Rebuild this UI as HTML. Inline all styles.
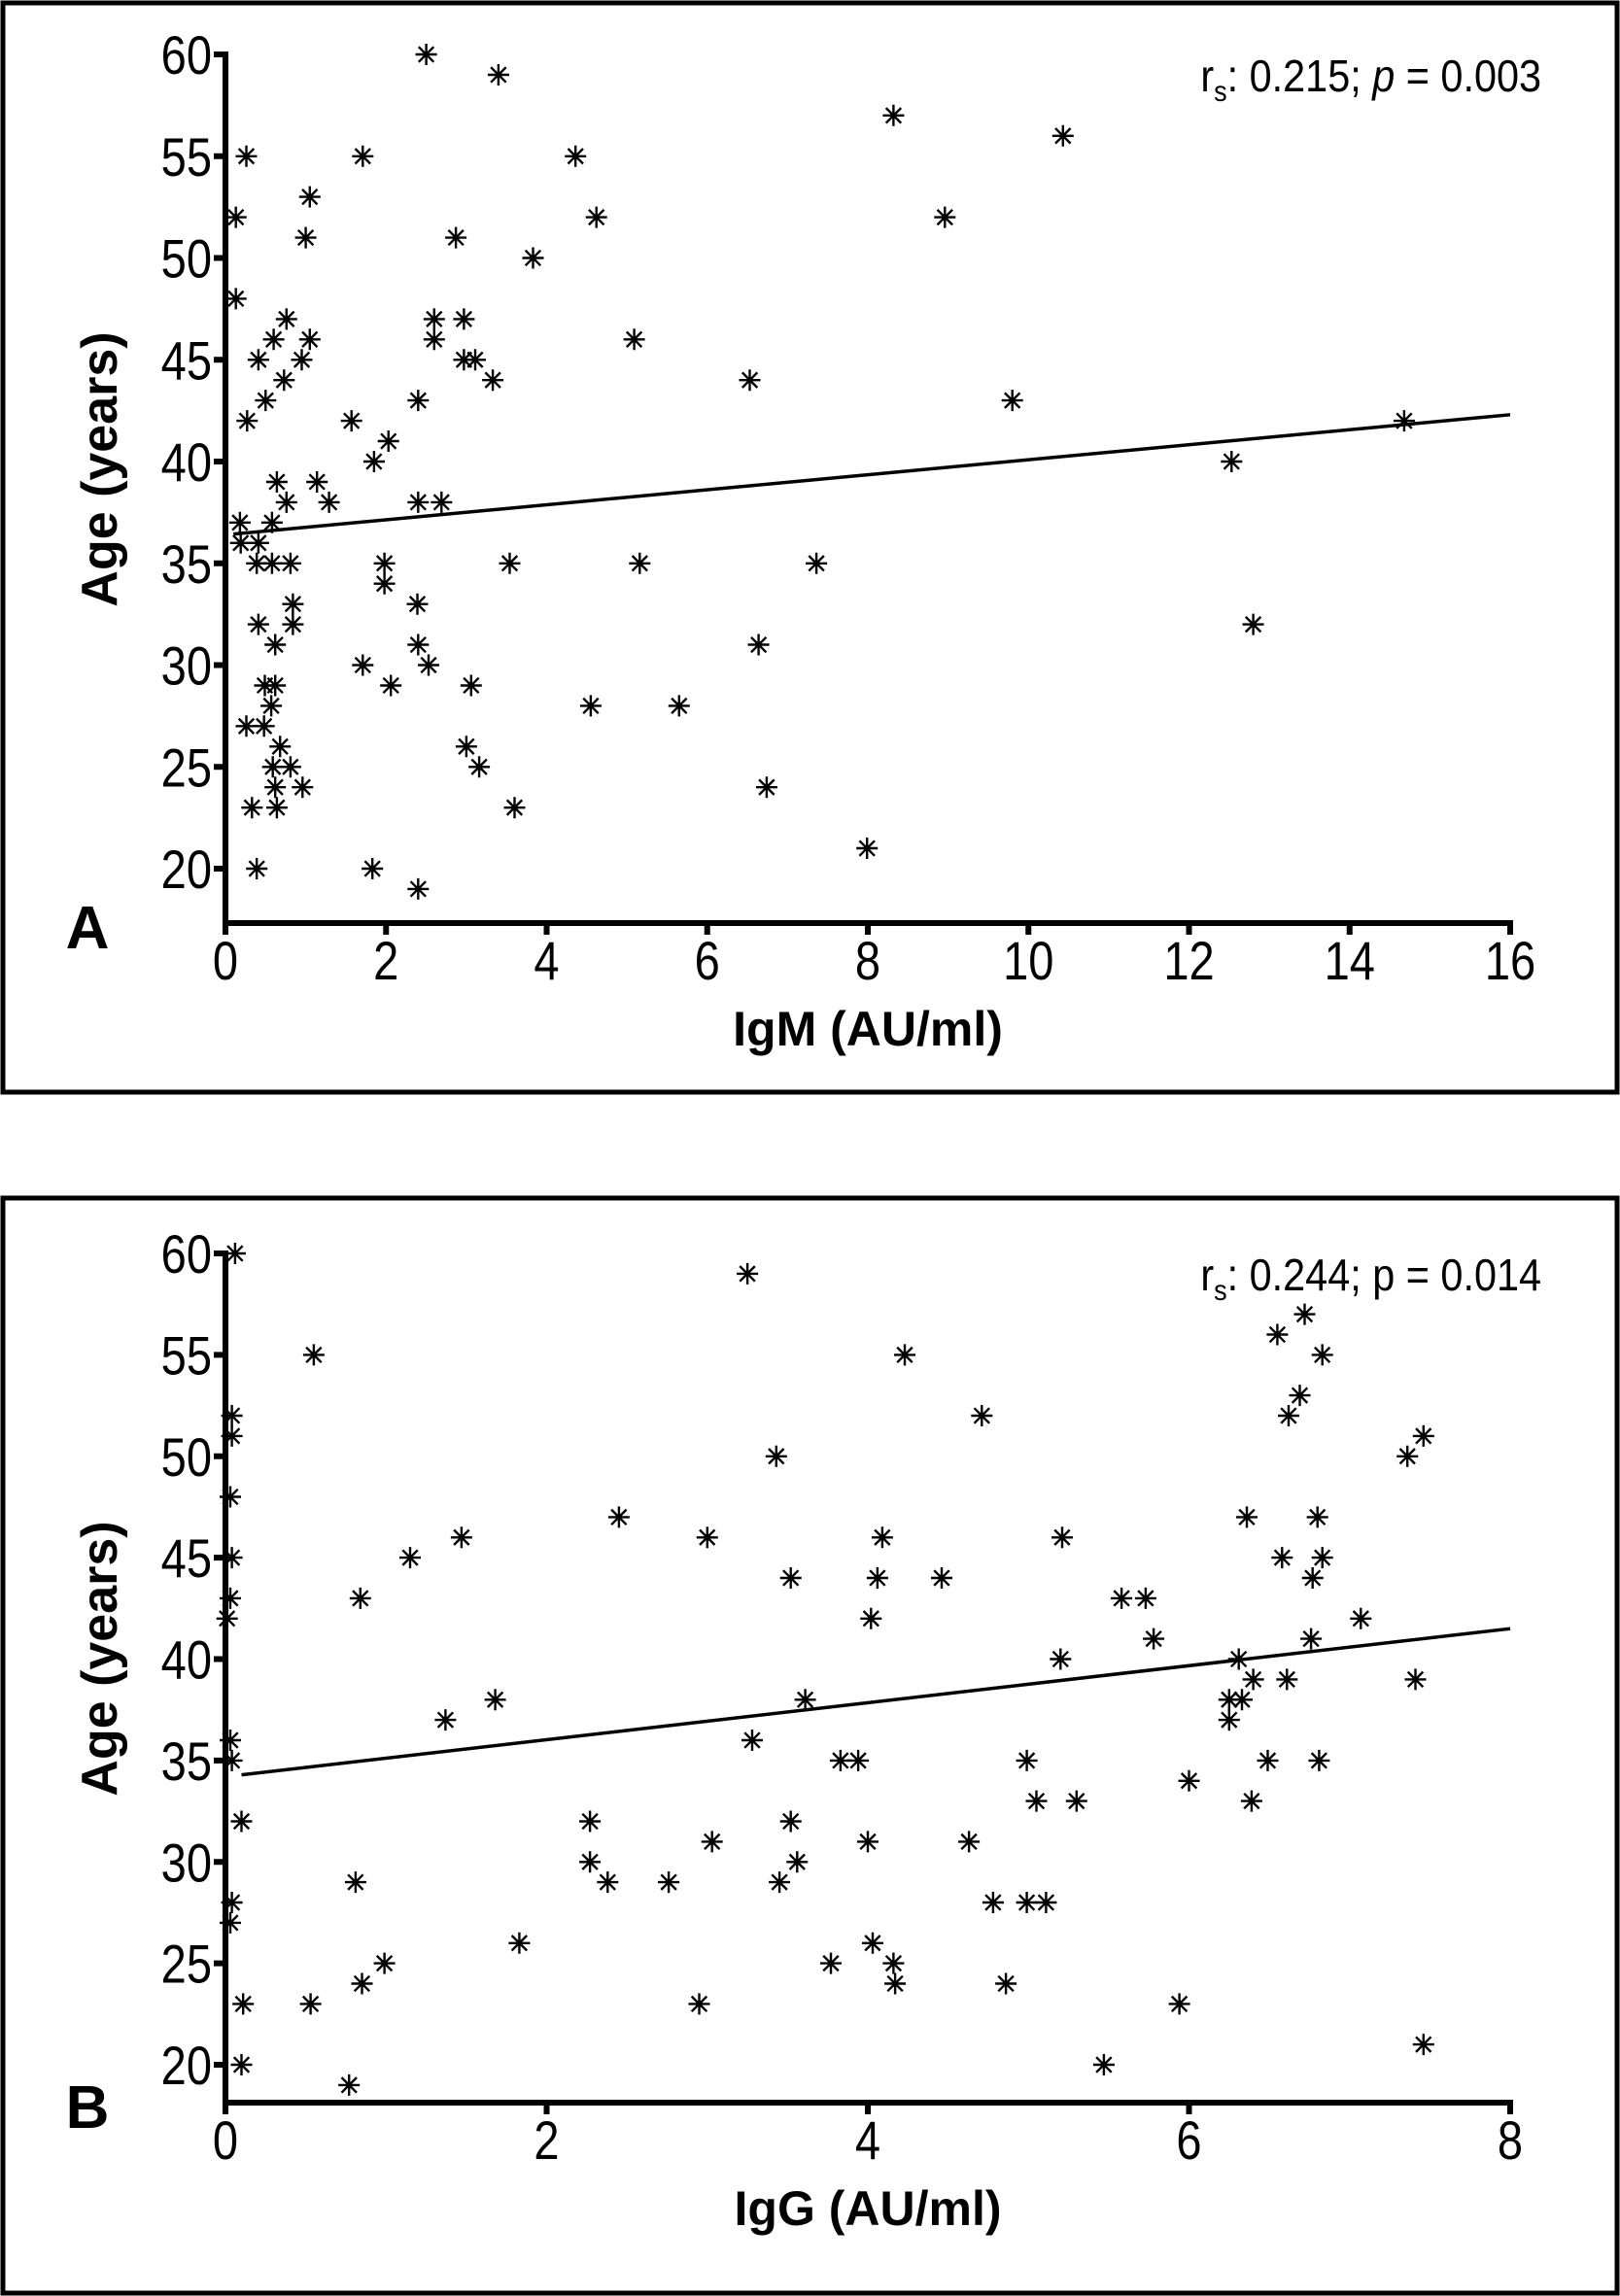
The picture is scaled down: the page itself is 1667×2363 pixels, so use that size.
<!DOCTYPE html>
<html><head><meta charset="utf-8">
<style>
html,body{margin:0;padding:0;background:#fff;}
svg{display:block;}
text{font-family:"Liberation Sans",sans-serif;fill:#000;}
</style></head>
<body>
<svg id="fig" width="1667" height="2363" viewBox="0 0 1667 2363" xmlns="http://www.w3.org/2000/svg"></svg>
<script>
// Panel A data
const igmX = [2.5,3.4,.26,1.71,4.36,8.32,10.43,.13,4.62,8.96,1.05,1.0,2.87,3.83,.13,.76,2.6,2.97,.6,1.05,2.6,5.09,.41,.95,2.97,3.11,.73,3.33,6.53,.5,2.4,9.8,.27,1.57,14.68,2.03,1.85,12.53,.64,1.14,.76,1.29,2.4,2.69,.18,.58,.19,.41,.39,.58,.81,1.98,3.54,5.16,7.36,1.98,.84,2.39,.41,.84,12.8,.62,2.4,6.64,1.71,2.53,.49,.62,2.06,3.06,.57,4.55,5.65,.26,.48,.68,3.0,.59,.81,3.16,.62,.96,6.74,.33,.64,3.6,7.99,.39,1.83,2.4];
const igmAge = [60,59,55,55,55,57,56,52,52,52,53,51,51,50,48,47,47,47,46,46,46,46,45,45,45,45,44,44,44,43,43,43,42,42,42,41,40,40,39,39,38,38,38,38,37,37,36,36,35,35,35,35,35,35,35,34,33,33,32,32,32,31,31,31,30,30,29,29,29,29,28,28,28,27,27,26,26,25,25,25,24,24,24,23,23,23,21,20,20,19];
const igmFit = [36.4,42.3];
const igmTicksX = [0,2,4,6,8,10,12,14,16];
// Panel B data
const iggX = [.06,3.25,.55,4.23,6.55,6.72,6.83,6.69,6.62,4.71,.04,.04,7.46,3.43,7.36,.03,2.45,6.36,6.80,1.47,3.0,4.09,5.21,.04,1.15,6.58,6.83,3.52,4.06,4.46,6.77,.03,.84,5.58,5.73,.01,4.02,7.07,5.78,6.76,5.2,6.31,1.68,3.61,6.25,6.33,6.4,6.61,7.41,6.25,1.37,3.28,.03,.04,3.83,3.94,4.99,6.49,6.81,6.0,.1,2.27,3.52,5.05,5.3,6.39,3.03,4.0,4.63,2.27,3.56,.81,2.38,2.76,3.45,.04,4.78,4.99,5.11,.03,1.83,4.03,.99,3.77,4.16,.85,4.17,4.86,.11,.53,2.95,5.94,7.46,.1,5.47,.77];
const iggAge = [60,59,55,55,56,57,55,53,52,52,52,51,51,50,50,48,47,47,47,46,46,46,46,45,45,45,45,44,44,44,44,43,43,43,43,42,42,42,41,41,40,40,38,38,38,38,39,39,39,37,37,36,36,35,35,35,35,35,35,34,32,32,32,33,33,33,31,31,31,30,30,29,29,29,29,28,28,28,28,27,26,26,25,25,25,24,24,24,23,23,23,23,21,20,20,19];
const iggFit = [34.2,41.5];
const iggTicksX = [0,2,4,6,8];
const ageTicks = [20,25,30,35,40,45,50,55,60];

const NS = "http://www.w3.org/2000/svg";
const svg = document.getElementById('fig');
function mk(tag, attrs, parent){
  const e = document.createElementNS(NS, tag);
  for (const k in attrs) e.setAttribute(k, attrs[k]);
  (parent||svg).appendChild(e);
  return e;
}
function txt(x,y,s,size,opts,parent){
  opts = opts||{};
  const t = mk('text',{x:0,y:0,'font-size':size,'text-anchor':opts.anchor||'middle',
    'font-weight':opts.bold?'bold':'normal',
    transform:`translate(${x},${y}) rotate(${opts.rot||0}) scale(${opts.sx||1},1)`},parent);
  t.textContent = s;
  return t;
}

function panel(cfg){
  const g = mk('g',{});
  
  
  const box = mk('rect',{x:cfg.box[0],y:cfg.box[1],width:cfg.box[2],height:cfg.box[3],fill:'none',stroke:'#000','stroke-width':5},g);
  
  
  const X0=232, X1=1554, xmax=cfg.xmax;
  const sx = v => X0 + (v/xmax)*(X1-X0);
  const sy = v => cfg.y60 + (60-v)/40*(cfg.y20-cfg.y60);
  const axisY = cfg.axisY;
  const ya = mk('line',{x1:X0,y1:cfg.y60-3,x2:X0,y2:axisY,stroke:'#000','stroke-width':6},g);
  
  
  const xa = mk('line',{x1:X0-3,y1:axisY,x2:X1+3,y2:axisY,stroke:'#000','stroke-width':6},g);
  
  
  ageTicks.forEach(v=>{
    mk('line',{x1:X0-12,y1:sy(v),x2:X0,y2:sy(v),stroke:'#000','stroke-width':6},g);
    const t = txt(X0-14, sy(v)+20, String(v), 56, {anchor:'end',sx:0.84}, g);
    
    
  });
  cfg.ticksX.forEach(v=>{
    mk('line',{x1:sx(v),y1:axisY,x2:sx(v),y2:axisY+12,stroke:'#000','stroke-width':6},g);
    const t = txt(sx(v), axisY+58, String(v), 56, {sx:0.84}, g);
    
    
  });
  const fl = mk('line',{x1:sx(0.1),y1:sy(cfg.fit[0]+(cfg.fit[1]-cfg.fit[0])*0.1/xmax),x2:sx(xmax),y2:sy(cfg.fit[1]),stroke:'#000','stroke-width':3.5},g);
  
  
  cfg.xs.forEach((v,i)=>{
    const cx = sx(v), cy = sy(cfg.ys[i]), r = 11;
    let d = '';
    for (let k=0;k<4;k++){
      const a = k*Math.PI/4;
      const dx = r*Math.cos(a), dy = r*Math.sin(a);
      d += `M${(cx-dx).toFixed(1)},${(cy-dy).toFixed(1)}L${(cx+dx).toFixed(1)},${(cy+dy).toFixed(1)}`;
    }
    const p = mk('path',{d:d,stroke:'#000','stroke-width':2.4,fill:'none'},g);
    
    
  });
  const yl = txt(120, (cfg.y60+axisY)/2 - 20, 'Age (years)', 52, {bold:true, rot:-90}, g);
  
  
  const xl = txt(893, axisY+126, cfg.xlabel, 50, {bold:true}, g);
  
  
  const pl = txt(90, axisY+26, cfg.letter, 62, {bold:true}, g);
  
  
  const an = mk('text',{x:0,y:0,'font-size':46,'text-anchor':'end',transform:`translate(1586,${cfg.y60+38}) scale(0.9,1)`},g);
  
  
  an.innerHTML = 'r<tspan font-size="30" dy="10">s</tspan><tspan dy="-10">: ' + cfg.rs + '; </tspan>' +
    (cfg.italicP ? '<tspan font-style="italic">p</tspan>' : '<tspan>p</tspan>') + '<tspan> = ' + cfg.p + '</tspan>';
}

panel({name:'panel-a-igm', box:[3,3,1661,1121], xmax:16, y60:56, y20:894, axisY:950,
  ticksX:igmTicksX, xs:igmX, ys:igmAge, fit:igmFit, xlabel:'IgM (AU/ml)', letter:'A', rs:'0.215', p:'0.003', italicP:true});
panel({name:'panel-b-igg', box:[3,1233,1661,1127], xmax:8, y60:1290, y20:2125, axisY:2164,
  ticksX:iggTicksX, xs:iggX, ys:iggAge, fit:iggFit, xlabel:'IgG (AU/ml)', letter:'B', rs:'0.244', p:'0.014', italicP:false});
</script>
</body></html>
